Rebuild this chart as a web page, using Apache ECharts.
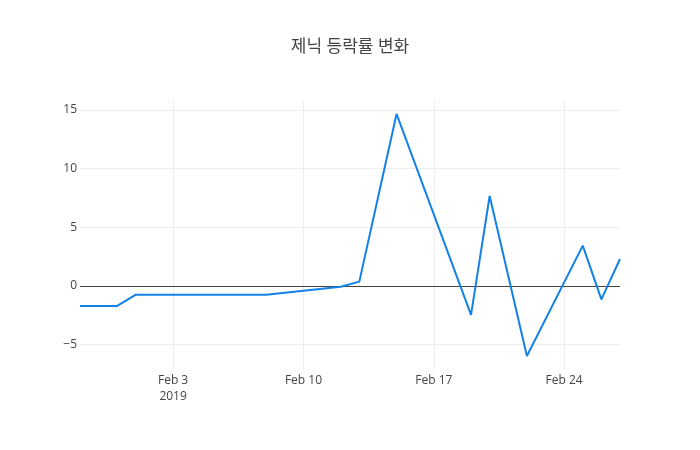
<!DOCTYPE html>
<html>
<head>
<meta charset="utf-8">
<script src="https://cdn.jsdelivr.net/npm/echarts@6/dist/echarts.min.js"></script>
<style>
  html, body { margin: 0; padding: 0; background: #fff; }
  #chart { width: 700px; height: 450px; }
</style>
</head>
<body>
<div id="chart"></div>
<script>
// 날짜별 등락률
var dates = ['2019-01-29', '2019-01-31', '2019-02-01', '2019-02-08', '2019-02-12',
  '2019-02-13', '2019-02-15', '2019-02-19', '2019-02-20', '2019-02-22',
  '2019-02-25', '2019-02-26', '2019-02-27'];
var rates = [-1.7, -1.7, -0.74, -0.74, -0.06, 0.37, 14.66, -2.47, 7.67, -5.97, 3.44, -1.14, 2.3];
var xRange = ['2019-01-29', '2019-02-27'];
var yRange = [-7.16, 15.85];
var monthNames = ['Jan', 'Feb', 'Mar', 'Apr', 'May', 'Jun', 'Jul', 'Aug', 'Sep', 'Oct', 'Nov', 'Dec'];

// 일요일(2019-02-03)을 기준으로 한 일수 -> 7일 간격 눈금이 일요일에 맞음
var base = Date.UTC(2019, 1, 3);
function dayNum(s) {
  var p = s.split('-');
  return (Date.UTC(+p[0], +p[1] - 1, +p[2]) - base) / 86400000;
}
function dayLabel(v) {
  var d = new Date(base + v * 86400000);
  var txt = monthNames[d.getUTCMonth()] + ' ' + d.getUTCDate();
  if (v === 0) txt += '\n' + d.getUTCFullYear();
  return txt;
}

var chart = echarts.init(document.getElementById('chart'), null, { renderer: 'canvas' });
var option = {
  backgroundColor: '#fff',
  animation: false,
  title: {
    text: '제닉 등락률 변화',
    left: 'center',
    top: 34,
    textStyle: {
      fontFamily: '"Open Sans", "Noto Sans CJK KR", sans-serif',
      fontSize: 17,
      fontWeight: 'normal',
      color: '#444'
    }
  },
  grid: { left: 80, right: 80, top: 100, bottom: 80, containLabel: false },
  xAxis: {
    type: 'value',
    min: dayNum(xRange[0]),
    max: dayNum(xRange[1]),
    minInterval: 7,
    maxInterval: 7,
    axisLine: { show: false },
    axisTick: { show: false },
    axisLabel: {
      showMinLabel: false,
      showMaxLabel: false,
      margin: 3,
      color: '#444',
      fontSize: 12,
      lineHeight: 16,
      fontFamily: '"Open Sans", sans-serif',
      formatter: dayLabel
    },
    splitLine: { show: true, showMinLine: false, showMaxLine: false, lineStyle: { color: '#eee', width: 1 } }
  },
  yAxis: {
    type: 'value',
    min: yRange[0],
    max: yRange[1],
    minInterval: 5,
    maxInterval: 5,
    axisLine: { show: false },
    axisTick: { show: false },
    axisLabel: {
      showMinLabel: false,
      showMaxLabel: false,
      margin: 3,
      color: '#444',
      fontSize: 12,
      fontFamily: '"Open Sans", sans-serif',
      formatter: function (v) { return v < 0 ? '\u2212' + Math.abs(v) : String(v); }
    },
    splitLine: { show: true, showMinLine: false, showMaxLine: false, lineStyle: { color: '#eee', width: 1 } }
  },
  series: [{
    type: 'line',
    data: dates.map(function (d, i) { return [dayNum(d), rates[i]]; }),
    showSymbol: false,
    symbol: 'none',
    lineStyle: { color: '#1481e6', width: 2 },
    markLine: {
      silent: true,
      symbol: 'none',
      label: { show: false },
      lineStyle: { color: '#444', width: 1, type: 'solid' },
      data: [{ yAxis: 0 }],
      z: 1
    },
    z: 3
  }]
};
chart.setOption(option);
</script>
</body>
</html>
